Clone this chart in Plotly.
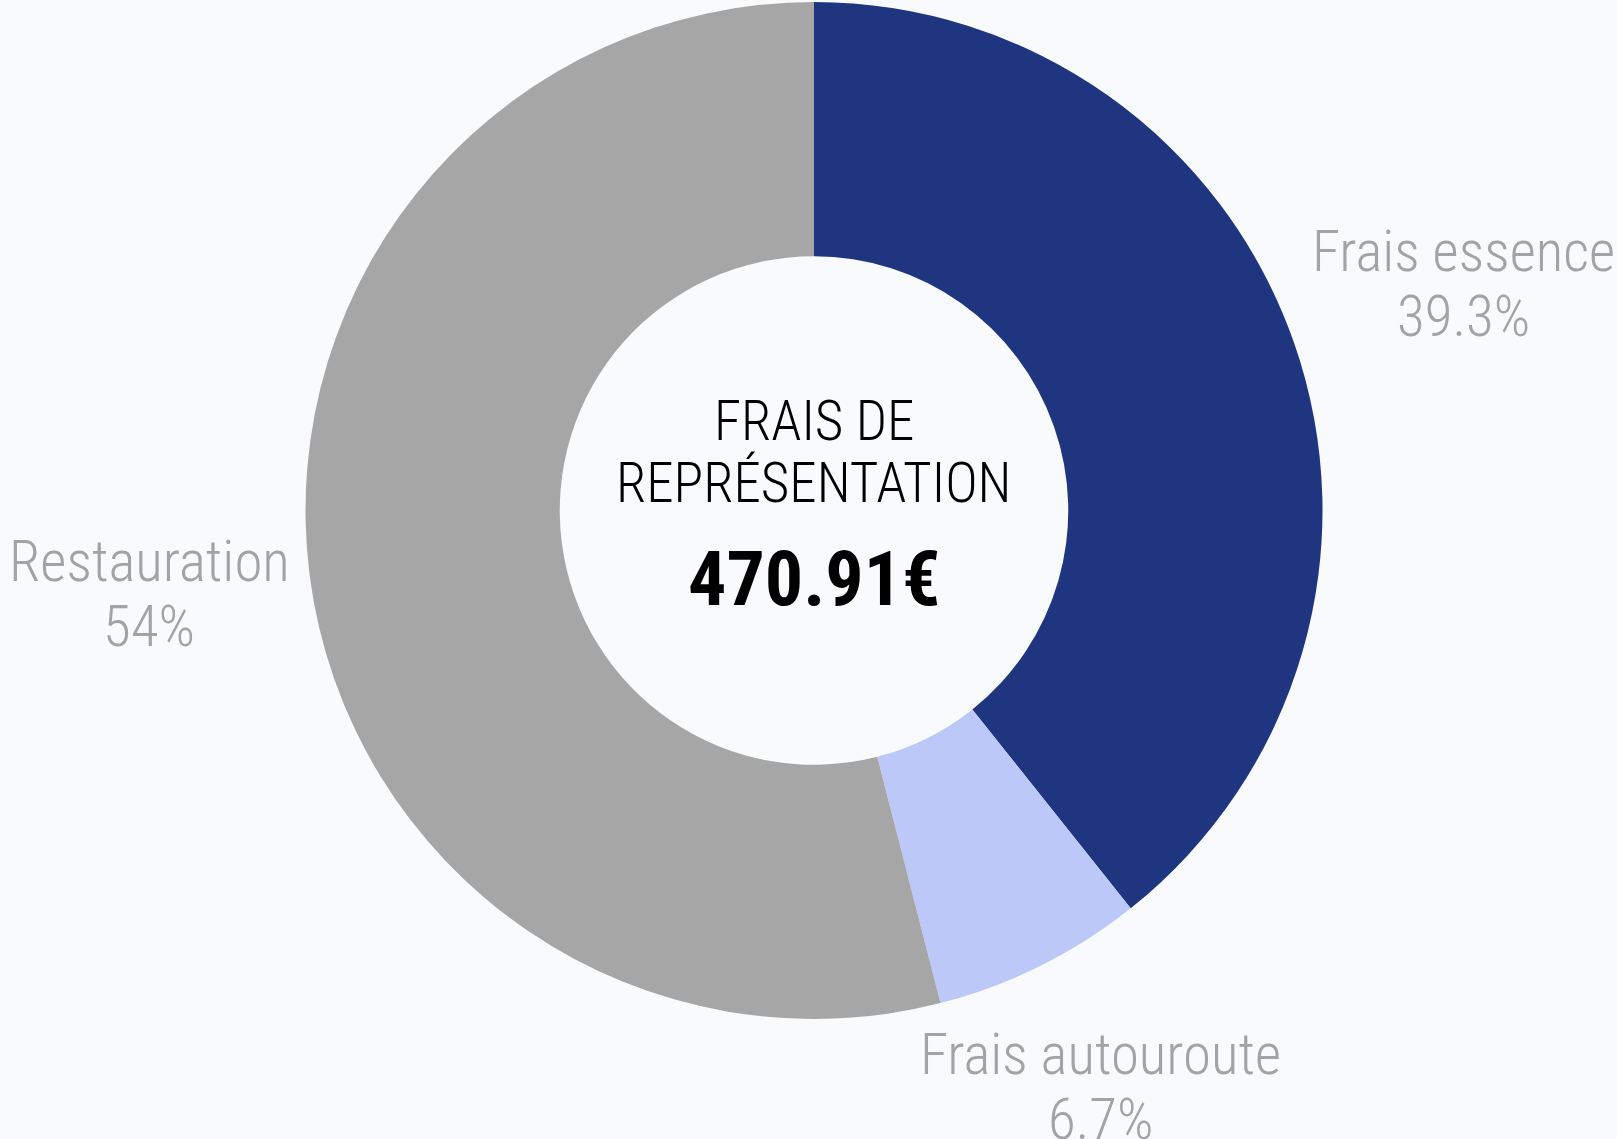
import math
import plotly.graph_objects as go

categories = ["Frais essence", "Frais autouroute", "Restauration"]
values = [185.07, 31.55, 254.29]
colors = ["#1f3580", "#bbc8f8", "#a6a6a6"]
center_title = ["FRAIS DE", "REPRÉSENTATION"]
center_total = "470.91€"

W, H = 1617, 1139
cx, cy, R = 814.0, 510.5, 508.5
label_fs = 57
label_color = "#a3a3a3"
label_font = "Roboto Condensed"

fig = go.Figure(go.Pie(
    labels=categories,
    values=values,
    hole=0.5,
    sort=False,
    direction="clockwise",
    rotation=0,
    marker=dict(colors=colors, line=dict(width=0)),
    textinfo="none",
    showlegend=False,
    hoverinfo="label+value+percent",
    domain=dict(x=[(cx - R) / W, (cx + R) / W], y=[1 - (cy + R) / H, 1 - (cy - R) / H]),
))

# outside labels: box placed along the slice mid-angle so that its nearest point touches a circle
total = sum(values)
label_ring = R + 18
half_h = 60
line_gap = 65
char_w = 23.1
cum = 0.0
for name, v in zip(categories, values):
    frac = v / total
    mid = (cum + frac / 2) * 2 * math.pi
    cum += frac
    ux, uy = math.sin(mid), -math.cos(mid)  # screen direction (y down)
    half_w = 0.5 * len(name) * char_w

    def nearest(d):
        bx, by = d * ux, d * uy
        nx = 0 if (bx - half_w <= 0 <= bx + half_w) else min(abs(bx - half_w), abs(bx + half_w))
        ny = 0 if (by - half_h <= 0 <= by + half_h) else min(abs(by - half_h), abs(by + half_h))
        return math.hypot(nx, ny)

    lo, hi = 0.0, 3 * R
    for _ in range(60):
        m = (lo + hi) / 2
        if nearest(m) < label_ring:
            lo = m
        else:
            hi = m
    d = (lo + hi) / 2
    lx, ly = cx + d * ux, cy + d * uy
    pct = f"{frac * 100:.3g}%"
    for txt, off in ((name, -line_gap / 2), (pct, line_gap / 2)):
        fig.add_annotation(x=lx / W, y=1 - (ly + off) / H, xref="paper", yref="paper",
                           xanchor="center", yanchor="middle", showarrow=False, text=txt,
                           font=dict(family=label_font, size=label_fs, color=label_color, weight=300))

title_caps_y = [420.7, 483.0]
for line, ypx in zip(center_title, title_caps_y):
    fig.add_annotation(x=cx / W, y=1 - ypx / H, xref="paper", yref="paper",
                       xanchor="center", yanchor="middle", showarrow=False,
                       text=line, font=dict(family="Roboto Condensed", size=55, color="#000000", weight=300))
fig.add_annotation(x=cx / W, y=1 - 578.5 / H, xref="paper", yref="paper",
                   xanchor="center", yanchor="middle", showarrow=False,
                   text=f"<b>{center_total}</b>", font=dict(family="Roboto Condensed", size=76, color="#000000"))

fig.update_layout(width=W, height=H, margin=dict(l=0, r=0, t=0, b=0),
                  paper_bgcolor="#f9fafc", plot_bgcolor="#f9fafc")
fig.write_html("out.html", config={"displayModeBar": False},
               post_script="document.body.style.margin='0';document.body.style.background='#f9fafc';document.body.style.overflow='hidden';")
